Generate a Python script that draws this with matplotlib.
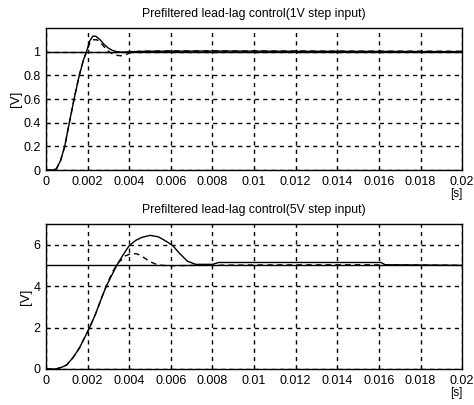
import matplotlib.pyplot as plt

plt.rcParams['font.family'] = ['Liberation Sans', 'DejaVu Sans']

# time axis values in ms
t1_solid = [0, 0.3, 0.5, 0.7, 0.9, 1.1, 1.35, 1.6, 1.8, 1.95, 2.1, 2.25, 2.4, 2.6, 2.8, 3.0, 3.2, 3.4, 3.7, 4.0, 5, 8, 12, 16, 20]
v1_solid = [0, 0, 0.01, 0.08, 0.2, 0.38, 0.6, 0.8, 0.93, 1.0, 1.09, 1.13, 1.13, 1.1, 1.06, 1.03, 1.01, 1.0, 0.995, 1.0, 1.003, 1.005, 1.003, 1.002, 1.0]
t1_dash = [0, 0.3, 0.5, 0.7, 0.9, 1.1, 1.35, 1.6, 1.8, 1.95, 2.1, 2.25, 2.45, 2.7, 2.9, 3.1, 3.35, 3.6, 3.85, 4.1, 4.5, 6, 10, 15, 20]
v1_dash = [0, 0, 0.01, 0.08, 0.2, 0.38, 0.6, 0.8, 0.93, 1.0, 1.07, 1.1, 1.1, 1.06, 1.02, 0.99, 0.97, 0.965, 0.975, 0.995, 1.003, 1.006, 1.005, 1.004, 1.003]

t2_solid = [0, 0.5, 0.8, 1.0, 1.3, 1.6, 1.9, 2.1, 2.4, 2.7, 2.9, 3.2, 3.4, 3.7, 4.0, 4.3, 4.6, 5.0, 5.4, 5.8, 6.1, 6.4, 6.8, 7.2, 8.0, 8.3, 16.1, 16.3, 20]
v2_solid = [0, 0, 0.1, 0.2, 0.55, 1.0, 1.6, 2.0, 2.7, 3.5, 4.0, 4.6, 5.0, 5.5, 5.95, 6.2, 6.35, 6.45, 6.38, 6.15, 5.95, 5.6, 5.2, 5.05, 5.05, 5.14, 5.14, 5.03, 5.0]
t2_dash = [0, 0.5, 0.8, 1.0, 1.3, 1.6, 1.9, 2.1, 2.4, 2.7, 2.9, 3.2, 3.5, 3.8, 4.1, 4.4, 4.7, 5.0, 5.3, 5.6, 6.0, 7, 10, 15, 20]
v2_dash = [0, 0, 0.1, 0.2, 0.55, 1.0, 1.6, 2.0, 2.7, 3.5, 4.0, 4.7, 5.15, 5.45, 5.58, 5.55, 5.38, 5.18, 5.05, 5.0, 4.98, 5.0, 5.02, 5.03, 5.0]

x_ticks = [0, 0.002, 0.004, 0.006, 0.008, 0.01, 0.012, 0.014, 0.016, 0.018, 0.02]
x_labels = ['0', '0.002', '0.004', '0.006', '0.008', '0.01', '0.012', '0.014', '0.016', '0.018', '0.02']

panels = [
    ("Prefiltered lead-lag control(1V step input)", t1_solid, v1_solid, t1_dash, v1_dash, 1.0,
     (0, 1.2), [0, 0.2, 0.4, 0.6, 0.8, 1], [0.097, 0.580, 0.878, 0.351]),
    ("Prefiltered lead-lag control(5V step input)", t2_solid, v2_solid, t2_dash, v2_dash, 5.0,
     (0, 7), [0, 2, 4, 6], [0.097, 0.089, 0.878, 0.358]),
]

fig = plt.figure(figsize=(4.74, 4.05), dpi=100)
for title, ts, vs, td, vd, ref, ylim, yticks, pos in panels:
    ax = fig.add_axes(pos)
    ax.plot([x * 1e-3 for x in ts], vs, color='black', lw=1.0)
    ax.plot([x * 1e-3 for x in td], vd, color='black', lw=1.0, ls=(0, (4, 3)))
    ax.axhline(ref, color='black', lw=1.0)
    ax.set_xlim(0, 0.02)
    ax.set_ylim(*ylim)
    ax.set_xticks(x_ticks)
    ax.set_xticklabels(x_labels)
    ax.set_yticks(yticks)
    ax.set_yticklabels([('%g' % y) for y in yticks])
    ax.tick_params(direction='in', length=3, labelsize=9, pad=4)
    ax.grid(True, color='black', ls=(0, (3, 3)), lw=1.0)
    for s in ax.spines.values():
        s.set_linewidth(1.0)
    ax.set_title(title, fontsize=8.8, pad=8)
    ax.set_ylabel('[V]', fontsize=9.5, labelpad=1)
    ax.annotate('[s]', xy=(1.0, 0.0), xycoords='axes fraction', xytext=(0, -17),
                textcoords='offset points', ha='right', va='center', fontsize=8.5)

fig.savefig('out.png', dpi=100)
